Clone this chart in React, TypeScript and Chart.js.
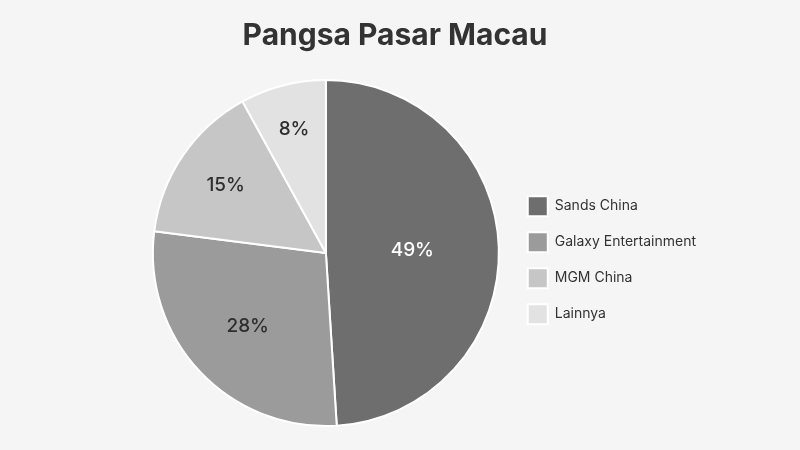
import { Chart, registerables } from 'chart.js';
import { useEffect, useRef } from 'react';

Chart.register(...registerables);

const chartTitle = 'Pangsa Pasar Macau';
const labels = ['Sands China', 'Galaxy Entertainment', 'MGM China', 'Lainnya'];
const shares = [49, 28, 15, 8];
const sliceColors = ['#6e6e6e', '#9b9b9b', '#c6c6c6', '#e2e2e2'];
const labelColors = ['#ffffff', '#2e2e2e', '#2e2e2e', '#2e2e2e'];
const labelRadius = [0.5, 0.62, 0.7, 0.74];

const fontFamily = 'Inter, "Noto Sans", sans-serif';

const pieLabels = {
  id: 'pieLabels',
  afterDatasetsDraw(chart: Chart) {
    const { ctx } = chart;
    const meta = chart.getDatasetMeta(0);
    ctx.save();
    ctx.font = `500 19px ${fontFamily}`;
    ctx.textAlign = 'center';
    ctx.textBaseline = 'middle';
    meta.data.forEach((arc: any, i: number) => {
      const { x, y, startAngle, endAngle, outerRadius } = arc.getProps(
        ['x', 'y', 'startAngle', 'endAngle', 'outerRadius'],
        true,
      );
      const mid = (startAngle + endAngle) / 2;
      const r = outerRadius * labelRadius[i];
      ctx.fillStyle = labelColors[i];
      ctx.fillText(shares[i] + '%', x + Math.cos(mid) * r, y + Math.sin(mid) * r);
    });
    ctx.restore();
  },
};

// background + title centred on the whole canvas (the built-in title follows layout padding)
const frame = {
  id: 'frame',
  beforeDraw(chart: Chart) {
    const { ctx, width, height } = chart;
    ctx.save();
    ctx.fillStyle = '#f5f5f5';
    ctx.fillRect(0, 0, width, height);
    ctx.fillStyle = '#333333';
    ctx.font = `bold 30px ${fontFamily}`;
    ctx.textAlign = 'center';
    ctx.textBaseline = 'middle';
    ctx.fillText(chartTitle, 395, 36);
    ctx.restore();
  },
};

const App: React.FC = () => {
  const canvasRef = useRef<HTMLCanvasElement | null>(null);
  const chartRef = useRef<Chart | null>(null);

  useEffect(() => {
    if (canvasRef.current) {
      chartRef.current = new Chart(canvasRef.current, {
        type: 'pie',
        data: {
          labels,
          datasets: [
            {
              data: shares,
              backgroundColor: sliceColors,
              borderColor: '#ffffff',
              borderWidth: 2,
            },
          ],
        },
        options: {
          responsive: false,
          animation: false,
          layout: { padding: { left: 140, right: 94, top: 79, bottom: 23 } },
          plugins: {
            title: { display: false },
            legend: {
              position: 'right',
              // empty legend title only nudges the items down a little
              title: { display: true, text: '', padding: 0, font: { size: 12 } },
              labels: {
                boxWidth: 20,
                boxHeight: 20,
                padding: 16,
                color: '#333333',
                font: { family: fontFamily, size: 14 },
              },
            },
            tooltip: { enabled: false },
          },
        },
        plugins: [frame, pieLabels],
      });
    }
    return () => {
      if (chartRef.current) {
        chartRef.current.destroy();
      }
    };
  }, []);

  return (
    <div style={{ position: 'fixed', left: 0, top: 0, width: 800, height: 450 }}>
      <canvas ref={canvasRef} width={800} height={450} />
    </div>
  );
};

export default App;
